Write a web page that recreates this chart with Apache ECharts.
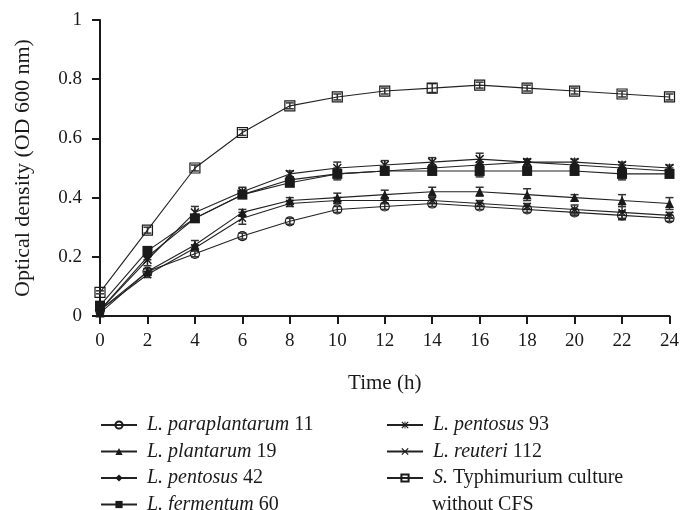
<!DOCTYPE html>
<html>
<head>
<meta charset="utf-8">
<script src="https://cdn.jsdelivr.net/npm/echarts@6/dist/echarts.min.js"></script>
<style>
  html, body { margin: 0; padding: 0; background: #fff; }
  #main { width: 682px; height: 510px; }
</style>
</head>
<body>
<div id="main"></div>
<script>
// time points (h)
var hours = [0, 2, 4, 6, 8, 10, 12, 14, 16, 18, 20, 22, 24];

// OD600 means
var para11  = [0.02, 0.15, 0.21, 0.27, 0.32, 0.36, 0.37, 0.38, 0.37, 0.36, 0.35, 0.34, 0.33];
var plant19 = [0.01, 0.15, 0.24, 0.35, 0.39, 0.40, 0.41, 0.42, 0.42, 0.41, 0.40, 0.39, 0.38];
var pent42  = [0.02, 0.20, 0.33, 0.41, 0.46, 0.48, 0.49, 0.50, 0.51, 0.52, 0.51, 0.50, 0.49];
var ferm60  = [0.035, 0.22, 0.33, 0.41, 0.45, 0.48, 0.49, 0.49, 0.49, 0.49, 0.49, 0.48, 0.48];
var pent93  = [0.02, 0.19, 0.35, 0.42, 0.48, 0.50, 0.51, 0.52, 0.53, 0.52, 0.52, 0.51, 0.50];
var reut112 = [0.02, 0.14, 0.23, 0.33, 0.38, 0.39, 0.39, 0.39, 0.38, 0.37, 0.36, 0.35, 0.34];
var styph   = [0.08, 0.29, 0.50, 0.62, 0.71, 0.74, 0.76, 0.77, 0.78, 0.77, 0.76, 0.75, 0.74];

// error bars (SD), estimated
var para11Sd  = [0.005, 0.01, 0.01, 0.01, 0.01, 0.01, 0.01, 0.01, 0.01, 0.01, 0.01, 0.015, 0.01];
var plant19Sd = [0.005, 0.01, 0.015, 0.01, 0.01, 0.015, 0.015, 0.015, 0.015, 0.02, 0.01, 0.02, 0.02];
var pent42Sd  = [0.005, 0.01, 0.01, 0.01, 0.01, 0.01, 0.01, 0.01, 0.01, 0.01, 0.01, 0.01, 0.01];
var ferm60Sd  = [0.005, 0.01, 0.01, 0.01, 0.01, 0.02, 0.01, 0.01, 0.02, 0.01, 0.01, 0.02, 0.01];
var pent93Sd  = [0.005, 0.02, 0.02, 0.015, 0.01, 0.02, 0.015, 0.015, 0.02, 0.01, 0.01, 0.01, 0.01];
var reut112Sd = [0.005, 0.01, 0.01, 0.02, 0.01, 0.01, 0.01, 0.01, 0.01, 0.01, 0.015, 0.02, 0.01];
var styphSd   = [0.005, 0.01, 0.01, 0.01, 0.01, 0.01, 0.01, 0.015, 0.01, 0.01, 0.01, 0.01, 0.01];

var seriesNames = ['L. paraplantarum 11', 'L. plantarum 19', 'L. pentosus 42', 'L. fermentum 60',
                   'L. pentosus 93', 'L. reuteri 112', 'S. Typhimurium culture'];
var italicParts = ['L. paraplantarum', 'L. plantarum', 'L. pentosus', 'L. fermentum',
                   'L. pentosus', 'L. reuteri', 'S.'];
var plainParts  = ['11', '19', '42', '60', '93', '112', 'Typhimurium culture'];

var FONT = '"Liberation Serif", "DejaVu Serif", serif';
var INK = '#1a1a1a';

// marker shapes
var crossPath = 'path://M0,1.2 L1.2,0 L5,3.8 L8.8,0 L10,1.2 L6.2,5 L10,8.8 L8.8,10 L5,6.2 L1.2,10 L0,8.8 L3.8,5 Z';
var starPath = crossPath + ' M4.4,0 L5.6,0 L5.6,10 L4.4,10 Z';
var hollow = { color: 'rgba(255,255,255,0)', borderColor: INK, borderWidth: 1.2 };
var solid = { color: INK, borderColor: INK, borderWidth: 0 };

var values = [para11, plant19, pent42, ferm60, pent93, reut112, styph];
var sds = [para11Sd, plant19Sd, pent42Sd, ferm60Sd, pent93Sd, reut112Sd, styphSd];
var symbols = ['circle', 'triangle', 'diamond', 'rect', starPath, crossPath, 'rect'];
var symbolSizes = [9, 9, 9, 10, 9, 8, 10];
var styles = [hollow, solid, solid, solid, solid, solid, hollow];

var chart = echarts.init(document.getElementById('main'));

var series = [];
// error bars first so the markers sit on top
values.forEach(function (vals, k) {
  series.push({
    type: 'custom',
    silent: true,
    z: 1,
    data: hours.map(function (h, i) { return [h, vals[i] - sds[k][i], vals[i] + sds[k][i]]; }),
    renderItem: function (params, api) {
      var lo = api.coord([api.value(0), api.value(1)]);
      var hi = api.coord([api.value(0), api.value(2)]);
      var w = 4;
      var st = { stroke: '#333', lineWidth: 1.5 };
      return {
        type: 'group',
        children: [
          { type: 'line', shape: { x1: lo[0], y1: lo[1], x2: hi[0], y2: hi[1] }, style: st },
          { type: 'line', shape: { x1: hi[0] - w, y1: hi[1], x2: hi[0] + w, y2: hi[1] }, style: st },
          { type: 'line', shape: { x1: lo[0] - w, y1: lo[1], x2: lo[0] + w, y2: lo[1] }, style: st }
        ]
      };
    }
  });
});
values.forEach(function (vals, k) {
  series.push({
    name: seriesNames[k],
    type: 'line',
    z: 3,
    data: hours.map(function (h, i) { return [h, vals[i]]; }),
    symbol: symbols[k],
    symbolSize: symbolSizes[k],
    showAllSymbol: true,
    lineStyle: { color: '#222', width: 1.1 },
    itemStyle: styles[k],
    emphasis: { disabled: true }
  });
});

var legendBase = {
  orient: 'vertical',
  padding: 0,
  height: 130,
  itemWidth: 36,
  itemHeight: 9,
  itemGap: 4.5,
  selectedMode: false,
  textStyle: {
    fontFamily: FONT, fontSize: 20, color: INK, lineHeight: 22, padding: [0, 0, 0, 5],
    rich: { i: { fontFamily: FONT, fontSize: 20, fontStyle: 'italic', color: INK } }
  },
  formatter: function (name) {
    var k = seriesNames.indexOf(name);
    return '{i|' + italicParts[k] + '} ' + plainParts[k];
  }
};

var option = {
  animation: false,
  backgroundColor: '#fff',
  grid: { left: 100, right: 12, top: 20, bottom: 194 },
  xAxis: {
    type: 'value',
    min: 0, max: 24, interval: 2,
    name: 'Time (h)',
    nameLocation: 'middle',
    nameGap: 57,
    nameTextStyle: { fontFamily: FONT, fontSize: 21, color: INK },
    axisLine: { lineStyle: { color: INK, width: 2 } },
    axisTick: { inside: false, length: 8, lineStyle: { color: INK, width: 2 } },
    axisLabel: { fontFamily: FONT, fontSize: 19, color: INK, margin: 16 },
    splitLine: { show: false }
  },
  yAxis: {
    type: 'value',
    min: 0, max: 1, interval: 0.2,
    name: 'Optical density (OD 600 nm)',
    nameLocation: 'middle',
    nameGap: 66,
    nameTextStyle: { fontFamily: FONT, fontSize: 22, color: INK },
    axisLine: { show: true, lineStyle: { color: INK, width: 2 } },
    axisTick: { show: true, length: 8, lineStyle: { color: INK, width: 2 } },
    axisLabel: {
      fontFamily: FONT, fontSize: 19, color: INK, margin: 18,
      formatter: function (v) { return (v === 0 || v === 1) ? String(v) : v.toFixed(1); }
    },
    splitLine: { show: false }
  },
  legend: [
    Object.assign({}, legendBase, { left: 100, top: 414, data: seriesNames.slice(0, 4) }),
    Object.assign({}, legendBase, { left: 386, top: 414, data: seriesNames.slice(4) })
  ],
  graphic: [{
    type: 'text',
    left: 432, top: 495,
    style: { text: 'without CFS', font: '20px ' + FONT, fill: INK }
  }],
  series: series
};

chart.setOption(option);
</script>
</body>
</html>
